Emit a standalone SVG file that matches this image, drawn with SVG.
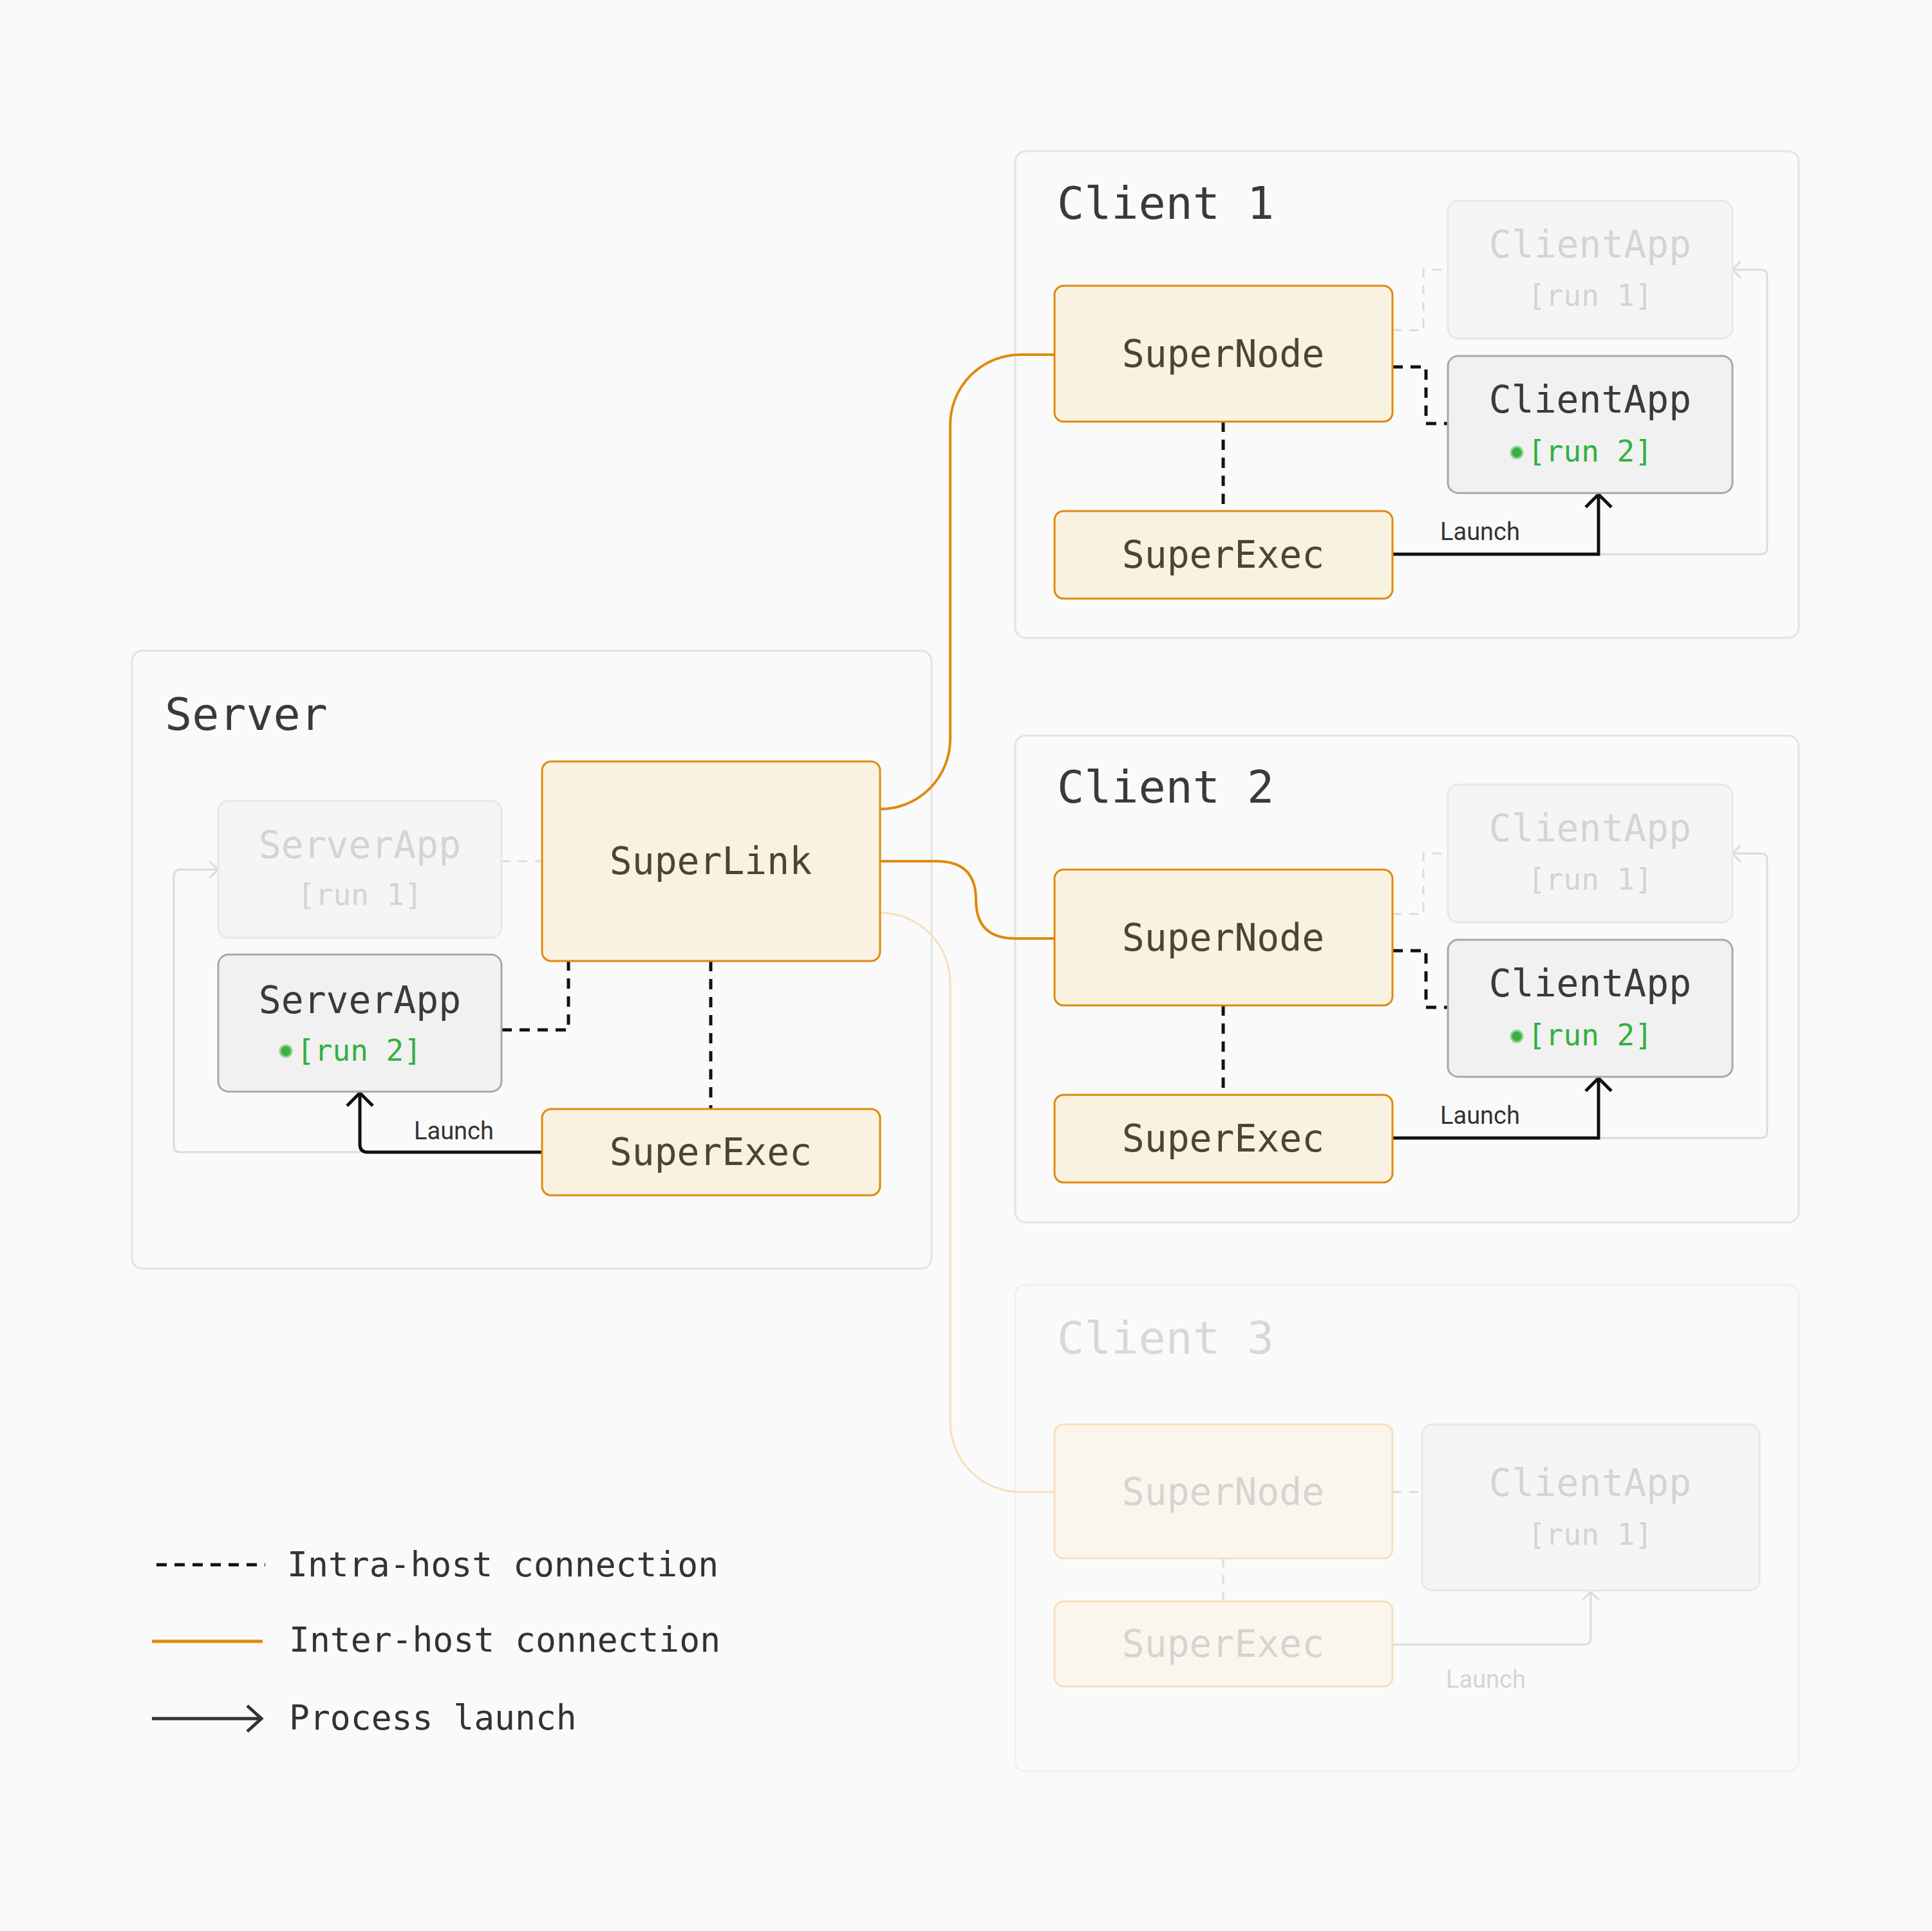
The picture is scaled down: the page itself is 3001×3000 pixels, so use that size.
<svg xmlns="http://www.w3.org/2000/svg" width="3001" height="3000" viewBox="0 0 3001 3000">
<defs>
<style>
.host{fill:#fafafa;stroke:#e3e3e3;stroke-width:3}
.host3{fill:#fafafa;stroke:#f0f0f0;stroke-width:3}
.title{font-family:"DejaVu Sans Mono",monospace;font-size:70px;fill:#3a3a3a}
.title3{font-family:"DejaVu Sans Mono",monospace;font-size:70px;fill:#d8d8d8}
.node{fill:#faf2e1;stroke:#df8a0c;stroke-width:3}
.nodef{fill:#fbf6ec;stroke:#f6e0bb;stroke-width:3}
.nt{font-family:"DejaVu Sans Mono",monospace;font-size:58px;fill:#4a4535;text-anchor:middle}
.ntf{font-family:"DejaVu Sans Mono",monospace;font-size:58px;fill:#d4d4d4;text-anchor:middle}
.app{fill:#f1f1f1;stroke:#a8a8a8;stroke-width:3}
.appf{fill:#f5f5f5;stroke:#e8e8e8;stroke-width:3}
.at{font-family:"DejaVu Sans Mono",monospace;font-size:58px;fill:#3a3a3a;text-anchor:middle}
.run{font-family:"DejaVu Sans Mono",monospace;font-size:46px;fill:#33b040;text-anchor:middle}
.runf{font-family:"DejaVu Sans Mono",monospace;font-size:46px;fill:#d4d4d4;text-anchor:middle}
.lbl{font-family:"Roboto","Liberation Sans",sans-serif;font-size:38px;fill:#333}
.lblf{font-family:"Roboto","Liberation Sans",sans-serif;font-size:38px;fill:#d4d4d4}
.dash{fill:none;stroke:#111;stroke-width:5;stroke-dasharray:16 12}
.dashf{fill:none;stroke:#dcdcdc;stroke-width:3;stroke-dasharray:14 12}
.launch{fill:none;stroke:#111;stroke-width:5}
.launchf{fill:none;stroke:#dcdcdc;stroke-width:3}
.orange{fill:none;stroke:#df8a0c;stroke-width:4}
.orangef{fill:none;stroke:#f6e0bb;stroke-width:3}
.leg{font-family:"DejaVu Sans Mono",monospace;font-size:53px;fill:#333}
</style>
</defs>
<rect width="3001" height="3000" fill="#fafafa"/>

<g id="hosts">
<rect class="host" x="205" y="1011" width="1242" height="960" rx="16"/>
<text class="title" x="256" y="1134">Server</text>
<rect class="host" x="1577" y="235" width="1217" height="756" rx="16"/>
<text class="title" x="1642" y="340">Client 1</text>
<rect class="host" x="1577" y="1143" width="1217" height="756" rx="16"/>
<text class="title" x="1642" y="1247">Client 2</text>
<rect class="host3" x="1577" y="1996" width="1217" height="756" rx="16"/>
<text class="title3" x="1642" y="2103">Client 3</text>
</g>

<g id="connectors">
<path class="dashf" d="M779,1338 L842,1338"/>
<path class="dash" d="M1104,1493 L1104,1723"/>
<path class="dash" d="M779,1600 L883,1600 L883,1493"/>
<path class="launchf" d="M559,1790 L280,1790 Q270,1790 270,1780 L270,1361 Q270,1351 280,1351 L339,1351 M325,1338 L339,1351 L325,1364"/>
<path class="launch" d="M842,1790 L571,1790 Q559,1790 559,1778 L559,1698 M539,1718 L559,1698 L579,1718"/>
<text class="lbl" x="643" y="1770">Launch</text>
<path class="orange" d="M1367,1257 A109,109 0 0 0 1476,1148 L1476,660 A109,109 0 0 1 1585,551 L1638,551"/>
<path class="orange" d="M1367,1338 L1455,1338 Q1516,1338 1516,1398 Q1516,1458 1576,1458 L1638,1458"/>
<path class="orangef" d="M1367,1418 A109,109 0 0 1 1476,1527 L1476,2209 A109,109 0 0 0 1585,2318 L1638,2318"/>
<g id="c1conn">
<path class="dashf" d="M2163,513 L2211,513 L2211,419 L2249,419"/>
<path class="dash" d="M2163,570 L2215,570 L2215,658 L2249,658"/>
<path class="dash" d="M1900,655 L1900,794"/>
<path class="launchf" d="M2483,861 L2735,861 Q2745,861 2745,851 L2745,429 Q2745,419 2735,419 L2691,419 M2704,406 L2691,419 L2704,432"/>
<path class="launch" d="M2163,861 L2483,861 L2483,768 M2463,788 L2483,768 L2503,788"/>
<text class="lbl" x="2237" y="839">Launch</text>
</g>
<g id="c2conn" transform="translate(0,907)">
<path class="dashf" d="M2163,513 L2211,513 L2211,419 L2249,419"/>
<path class="dash" d="M2163,570 L2215,570 L2215,658 L2249,658"/>
<path class="dash" d="M1900,655 L1900,794"/>
<path class="launchf" d="M2483,861 L2735,861 Q2745,861 2745,851 L2745,429 Q2745,419 2735,419 L2691,419 M2704,406 L2691,419 L2704,432"/>
<path class="launch" d="M2163,861 L2483,861 L2483,768 M2463,788 L2483,768 L2503,788"/>
<text class="lbl" x="2237" y="839">Launch</text>
</g>
<path class="dashf" d="M2163,2318 L2209,2318"/>
<path class="dashf" d="M1900,2421 L1900,2488"/>
<path class="launchf" d="M2163,2555 L2461,2555 Q2471,2555 2471,2545 L2471,2473 M2458,2486 L2471,2473 L2484,2486"/>
<text class="lblf" x="2246" y="2622">Launch</text>
</g>

<g id="superlink"><rect class="node" x="842" y="1183" width="525" height="310" rx="14"/><text class="nt" x="1104" y="1358">SuperLink</text></g>
<g id="server-superexec"><rect class="node" x="842" y="1723" width="525" height="134" rx="14"/><text class="nt" x="1104" y="1810">SuperExec</text></g>
<g id="serverapp-run1"><rect class="appf" x="339" y="1244" width="440" height="213" rx="16"/><text class="ntf" x="559" y="1333">ServerApp</text><text class="runf" x="559" y="1406">[run 1]</text></g>
<g id="serverapp-run2"><rect class="app" x="339" y="1483" width="440" height="213" rx="16"/><text class="at" x="559" y="1574">ServerApp</text><circle cx="444" cy="1633" r="9" fill="#3cb043" stroke="#8fd18f" stroke-width="3"/><text class="run" x="558" y="1648">[run 2]</text></g>

<g id="client1-supernode"><rect class="node" x="1638" y="444" width="525" height="211" rx="14"/><text class="nt" x="1900" y="570">SuperNode</text></g>
<g id="client1-superexec"><rect class="node" x="1638" y="794" width="525" height="136" rx="14"/><text class="nt" x="1900" y="882">SuperExec</text></g>
<g id="client1-clientapp-run1"><rect class="appf" x="2249" y="312" width="442" height="214" rx="16"/><text class="ntf" x="2470" y="400">ClientApp</text><text class="runf" x="2470" y="475">[run 1]</text></g>
<g id="client1-clientapp-run2"><rect class="app" x="2249" y="553" width="442" height="213" rx="16"/><text class="at" x="2470" y="641">ClientApp</text><circle cx="2356" cy="703" r="9" fill="#3cb043" stroke="#8fd18f" stroke-width="3"/><text class="run" x="2470" y="717">[run 2]</text></g>

<g id="client2-supernode"><rect class="node" x="1638" y="1351" width="525" height="211" rx="14"/><text class="nt" x="1900" y="1477">SuperNode</text></g>
<g id="client2-superexec"><rect class="node" x="1638" y="1701" width="525" height="136" rx="14"/><text class="nt" x="1900" y="1789">SuperExec</text></g>
<g id="client2-clientapp-run1"><rect class="appf" x="2249" y="1219" width="442" height="214" rx="16"/><text class="ntf" x="2470" y="1307">ClientApp</text><text class="runf" x="2470" y="1382">[run 1]</text></g>
<g id="client2-clientapp-run2"><rect class="app" x="2249" y="1460" width="442" height="213" rx="16"/><text class="at" x="2470" y="1548">ClientApp</text><circle cx="2356" cy="1610" r="9" fill="#3cb043" stroke="#8fd18f" stroke-width="3"/><text class="run" x="2470" y="1624">[run 2]</text></g>

<g id="client3-supernode"><rect class="nodef" x="1638" y="2213" width="525" height="208" rx="14"/><text class="ntf" x="1900" y="2338">SuperNode</text></g>
<g id="client3-superexec"><rect class="nodef" x="1638" y="2488" width="525" height="132" rx="14"/><text class="ntf" x="1900" y="2574">SuperExec</text></g>
<g id="client3-clientapp"><rect class="appf" x="2209" y="2213" width="524" height="258" rx="16"/><text class="ntf" x="2470" y="2324">ClientApp</text><text class="runf" x="2470" y="2400">[run 1]</text></g>

<g id="legend">
<path class="dash" d="M243,2431 L412,2431" stroke-dasharray="14 10"/>
<text class="leg" x="446" y="2449">Intra-host connection</text>
<path d="M236,2550 L408,2550" stroke="#df8a0c" stroke-width="5"/>
<text class="leg" x="449" y="2566">Inter-host connection</text>
<path d="M236,2670 L404,2670 M384,2650 L406,2670 L384,2690" stroke="#333" stroke-width="5" fill="none"/>
<text class="leg" x="449" y="2687">Process launch</text>
</g>
</svg>
